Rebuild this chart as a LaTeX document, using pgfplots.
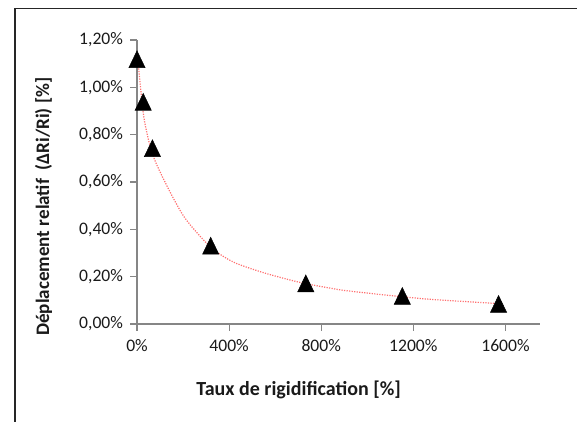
\documentclass[border=0pt]{standalone}
\usepackage{fontspec}
\setmainfont{Carlito}
\usepackage{pgfplots}
\pgfplotsset{compat=1.18}
\definecolor{axisgray}{HTML}{868686}
\definecolor{txtgray}{HTML}{1A1A1A}
\definecolor{trend}{HTML}{FF7070}
\begin{document}
\begin{tikzpicture}
\path[use as bounding box] (0,0) rectangle (432.75pt,315.75pt);
\draw[line width=1.2pt, black!85] (11.4pt,-5pt) -- (11.4pt,309.4pt) -- (440pt,309.4pt);
\begin{axis}[
  at={(102.75pt,72.75pt)}, anchor=south west,
  scale only axis,
  width=302.25pt, height=213pt,
  xmin=0, xmax=1750, ymin=0, ymax=1.2,
  axis lines*=left,
  axis line style={-, axisgray, line width=0.9pt},
  tick style={axisgray, line width=0.9pt},
  tick align=outside,
  major tick length=5pt,
  xtick={0,400,800,1200,1600},
  ytick={0,0.2,0.4,0.6,0.8,1.0,1.2},
  /pgf/number format/assume math mode=true,
  xticklabel={\pgfmathprintnumber[fixed,precision=0,1000 sep={}]{\tick}\%},
  yticklabel={\pgfmathprintnumber[fixed,zerofill,precision=2,use comma]{\tick}\%},
  ticklabel style={font=\fontsize{13.2}{15}\selectfont, text=txtgray},
  xticklabel style={yshift=-3pt},
  yticklabel style={xshift=-2pt},
  xlabel={\textbf{Taux de rigidification [\%]}},
  ylabel={\textbf{Déplacement relatif\ \ (ΔRi/Ri) [\%]}},
  xlabel style={font=\fontsize{15}{17}\selectfont, text=txtgray,
    at={(axis description cs:0.401,-0.232)}, anchor=center},
  ylabel style={font=\fontsize{14.3}{17}\selectfont, text=txtgray,
    at={(axis description cs:-0.232,0.413)}, anchor=center, rotate=0},
  clip=false,
]
\addplot[trend, densely dotted, line width=0.9pt, smooth, no marks] coordinates {
  (7,1.08) (26,0.90) (38,0.83) (60,0.74) (87,0.67) (145,0.555) (203,0.455)
  (261,0.385) (319,0.325) (363,0.293) (406,0.268) (450,0.249) (566,0.212)
  (711,0.175) (842,0.151) (915,0.140) (1133,0.117) (1278,0.104) (1540,0.088)
  (1573,0.086)
};
\addplot[only marks, mark=triangle*, mark size=7pt, black,
  mark options={fill=black, yscale=1.2, yshift=-1.8pt}] coordinates {
  (0,1.119) (27,0.939) (67,0.743) (320,0.331) (733,0.172) (1152,0.119) (1570,0.085)
};
\end{axis}
\end{tikzpicture}
\end{document}
